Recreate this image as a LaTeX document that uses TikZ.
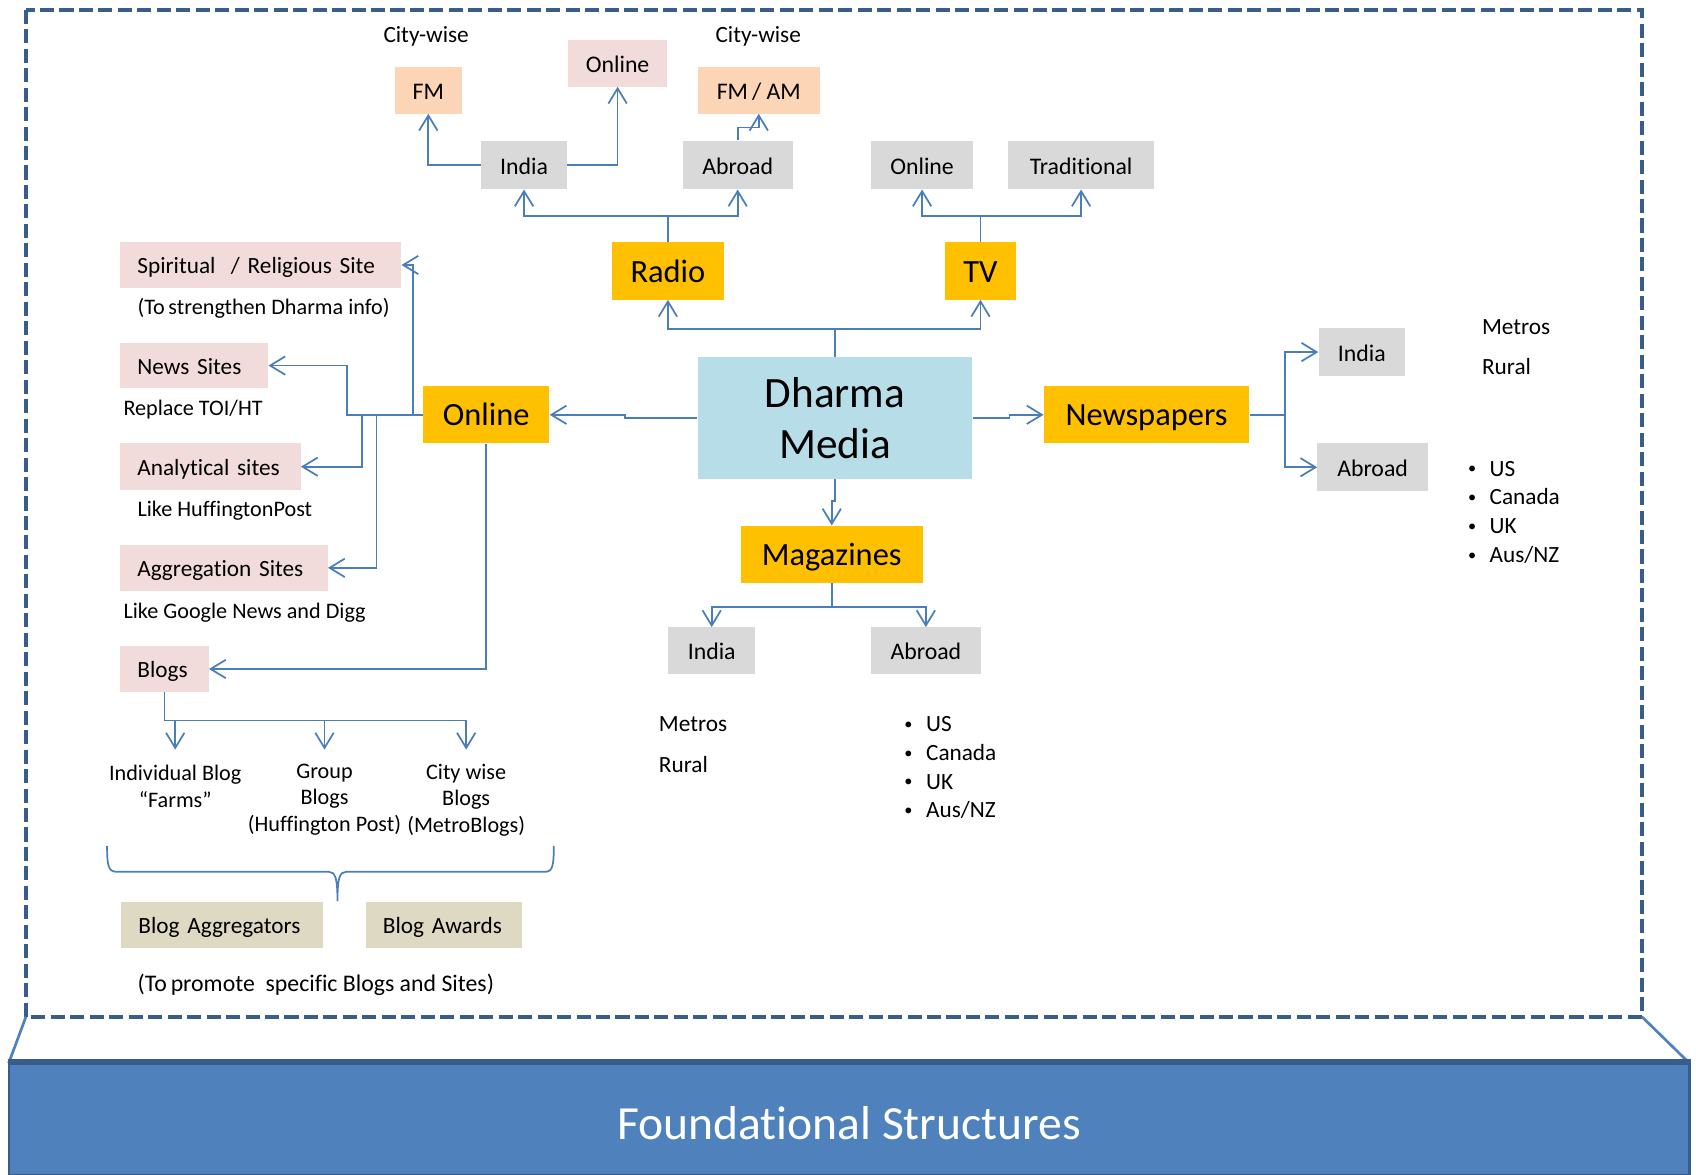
\documentclass[tikz,border=0pt]{standalone}
\usepackage{fontspec}
\setmainfont{Carlito}[Ligatures=NoCommon]
\usetikzlibrary{arrows.meta}
\definecolor{cgray}{HTML}{D9D9D9}
\definecolor{cpink}{HTML}{F2DCDB}
\definecolor{cpeach}{HTML}{FBD5B5}
\definecolor{ctan}{HTML}{DDD9C3}
\definecolor{corange}{HTML}{FFC000}
\definecolor{cblue}{HTML}{B7DEE8}
\definecolor{cline}{HTML}{4A7EBB}
\definecolor{cborder}{HTML}{385D8A}
\definecolor{cfound}{HTML}{4F81BD}
\newcommand{\smbul}{\makebox[20pt][l]{\raisebox{2pt}{\scalebox{0.7}{•}}}}
\begin{document}
\begin{tikzpicture}[x=1pt,y=-1pt,
  bx/.style={inner sep=0pt, font=\fontsize{22}{26}\selectfont, text height=16.8pt, text depth=0pt},
  gbox/.style={bx, fill=cgray, minimum height=45pt},
  pbox/.style={bx, fill=cpeach, minimum height=43pt},
  kbox/.style={bx, fill=cpink, minimum height=43pt},
  lbox/.style={inner sep=0pt, inner xsep=16pt, align=left, minimum height=42pt, font=\fontsize{21.5}{26}\selectfont, text height=16.4pt, text depth=0pt},
  obox/.style={inner sep=0pt, fill=corange, minimum height=53pt, font=\fontsize{30}{36}\selectfont, text height=20.6pt, text depth=0pt},
  txt/.style={inner sep=0pt, font=\fontsize{20.5}{24.5}\selectfont, text height=15.2pt, text depth=0pt},
  txtm/.style={inner sep=0pt, font=\fontsize{20.5}{24.5}\selectfont, align=center},
  txtb/.style={inner sep=0pt, font=\fontsize{21.5}{26.7}\selectfont, align=left},
  conn/.style={draw=cline, line width=1.6pt},
  arr/.style={conn, -{Straight Barb[length=14pt,width=17pt]}}
]
\useasboundingbox (0,0) rectangle (1568,1086);

% outer dashed frame
\draw[cborder, line width=3.5pt, dash pattern=on 13pt off 5pt] (24,9) rectangle (1518,940);
% foundation
\draw[cfound, line width=2.5pt] (24,940) -- (8,983);
\draw[cfound, line width=2.5pt] (1518,940) -- (1562,983);
\node[fill=cfound, draw=cborder, line width=2pt, inner sep=0pt, minimum width=1554pt, minimum height=103pt,
      text=white, font=\fontsize{44}{50}\selectfont, text height=38.8pt, text depth=0pt] (found) at (785,1034.5) {Foundational Structures};
\draw[cborder, line width=5pt] (found.north west) -- (found.north east);

% radio branch
\node[txt, font=\fontsize{21.5}{26}\selectfont] (cw1) at (394,32) {City-wise};
\node[txt, font=\fontsize{21.5}{26}\selectfont] (cw2) at (701,32) {City-wise};
\node[pbox, minimum width=62pt] (FM) at (396,83.5) {FM};
\node[kbox, minimum width=92pt] (OnlineR) at (571,58.5) {Online};
\node[pbox, minimum width=113pt] (FMAM) at (701.5,83.5) {FM\,/ AM};
\node[gbox, minimum width=79pt] (IndiaR) at (484.5,152.5) {India};
\node[gbox, minimum width=102pt] (AbroadR) at (682,152.5) {Abroad};
\node[gbox, minimum width=95pt] (OnlineTV) at (852.5,152.5) {Online};
\node[gbox, minimum width=135pt] (Trad) at (999.5,152.5) {Traditional};
\node[obox, minimum width=103pt] (Radio) at (617.5,250.5) {Radio};
\node[obox, minimum width=65pt] (TV) at (906.5,250.5) {TV};

% centre
\node[inner sep=0pt, fill=cblue, minimum width=254pt, minimum height=113pt, align=center,
      font=\fontsize{40}{47}\selectfont] (Dharma) at (772,386.5) {Dharma\\Media};
\node[obox, minimum width=117pt] (Online) at (449.5,383.5) {Online};
\node[obox, minimum width=190pt] (News) at (1060,383.5) {Newspapers};
\node[obox, minimum width=168pt] (Mag) at (769,512.5) {Magazines};

% magazines
\node[gbox, minimum width=80pt, minimum height=43pt] (IndiaM) at (658,601.5) {India};
\node[gbox, minimum width=102pt, minimum height=43pt] (AbroadM) at (856,601.5) {Abroad};
\node[txtb, anchor=west] (mmr) at (609,688.5) {Metros\\[11pt]Rural};
\node[txtb, anchor=north west] (mab) at (836,662) {\smbul US\\\smbul Canada\\\smbul UK\\\smbul Aus/NZ};

% newspapers
\node[gbox, minimum width=80pt] (IndiaN) at (1259,325.5) {India};
\node[gbox, minimum width=102pt, minimum height=44pt] (AbroadN) at (1269,432) {Abroad};
\node[txtb, anchor=west] (nmr) at (1370,321) {Metros\\[11pt]Rural};
\node[txtb, anchor=north west] (nab) at (1357,426) {\smbul US\\\smbul Canada\\\smbul UK\\\smbul Aus/NZ};

% online branch
\node[lbox, fill=cpink, text width=228pt] (Spiritual) at (241,245) {Spiritual \ / Religious Site};
\node[txt, anchor=west] (sp2) at (127,283) {(To\,strengthen Dharma info)};
\node[lbox, fill=cpink, text width=105pt] (NewsSites) at (179.5,338) {News Sites};
\node[txt, anchor=west] (ns2) at (114,377) {Replace TOI/HT};
\node[lbox, fill=cpink, text width=135pt, minimum height=43pt] (Analytical) at (194.5,431.5) {Analytical sites};
\node[txt, anchor=west] (an2) at (127,470) {Like HuffingtonPost};
\node[lbox, fill=cpink, text width=160pt] (Aggregation) at (207,525) {Aggregation Sites};
\node[txt, anchor=west] (ag2) at (114,564) {Like Google News and Digg};
\node[lbox, fill=cpink, text width=50pt, minimum height=43pt] (Blogs) at (152,618.5) {Blogs};

\node[txtm, anchor=north, font=\fontsize{20.5}{25}\selectfont] (ind) at (162,707) {Individual Blog\\“Farms”};
\node[txtm, anchor=north] (grp) at (300,706) {Group\\Blogs\\(Huffington Post)};
\node[txtm, anchor=north] (cty) at (431,706) {City wise\\Blogs\\(MetroBlogs)};

\node[lbox, fill=ctan, text width=155pt] (BlogAgg) at (205.5,855) {Blog Aggregators};
\node[lbox, fill=ctan, text width=113pt] (BlogAw) at (410.5,855) {Blog Awards};
\node[txt, anchor=west, font=\fontsize{22}{26}\selectfont, text height=15.6pt] (promote) at (127,909) {(To\,promote \ specific Blogs and Sites)};

% brace
\draw[conn] (99,782) .. controls (99,800) and (100,806) .. (108,806) -- (304,806)
   .. controls (310,806) and (312,812) .. (312,833)
   .. controls (312,812) and (314,806) .. (320,806) -- (504,806)
   .. controls (511,806) and (512,800) .. (512,782);

% connectors: radio / tv
\draw[arr] (Radio.north) -- (Radio.north |- 0,200) -| (IndiaR.south);
\draw[arr] (Radio.north |- 0,200) -| (AbroadR.south);
\draw[arr] (IndiaR.west) -| (FM.south);
\draw[arr] (IndiaR.east) -| (OnlineR.south);
\draw[arr] (AbroadR.north) -- ++(0,-12) -| (FMAM.south);
\draw[arr] (TV.north) -- (TV.north |- 0,200) -| (OnlineTV.south);
\draw[arr] (TV.north |- 0,200) -| (Trad.south);
\draw[arr] (Dharma.north) -- (Dharma.north |- 0,304) -| (Radio.south);
\draw[arr] (Dharma.north |- 0,304) -| (TV.south);
% centre connectors
\draw[arr] (Dharma.west) -- ++(-67,0) |- (Online.east);
\draw[arr] (Dharma.east) -- ++(34,0) |- (News.west);
\draw[arr] (Dharma.south) -- ++(0,20) -| (Mag.north);
\draw[arr] (Mag.south) -- (Mag.south |- 0,561) -| (IndiaM.north);
\draw[arr] (Mag.south |- 0,561) -| (AbroadM.north);
\draw[arr] (News.east) -- ++(33,0) coordinate (nj) |- (IndiaN.west);
\draw[arr] (nj) |- (AbroadN.west);
% online connectors
\draw[arr] (Online.west) -- (Online.west -| 382,0) |- (Spiritual.east);
\draw[arr] (Online.west) -- (Online.west -| 321,0) |- (NewsSites.east);
\draw[arr] (Online.west -| 335,0) |- (Analytical.east);
\draw[arr] (Online.west -| 348,0) |- (Aggregation.east);
\draw[arr] (Online.south) |- (Blogs.east);
% blogs
\draw[conn] (Blogs.south) -- (Blogs.south |- 0,666) -- (cty.north |- 0,666);
\draw[arr, shorten >=14pt] (ind.north |- 0,666) -- (ind.north);
\draw[arr, shorten >=13pt] (grp.north |- 0,666) -- (grp.north);
\draw[arr, shorten >=13pt] (cty.north |- 0,666) -- (cty.north);
\end{tikzpicture}
\end{document}
